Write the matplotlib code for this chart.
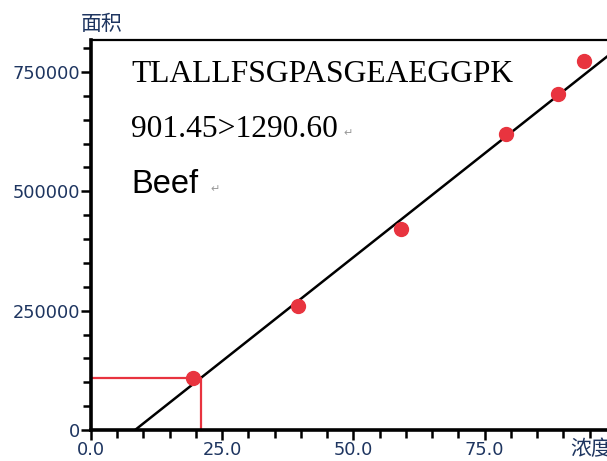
import matplotlib.pyplot as plt
from matplotlib.ticker import MultipleLocator

# 标准曲线数据
conc = [19.5, 39.5, 59.0, 79.0, 89.0, 94.0]
area = [109000, 260000, 421000, 620000, 704000, 773000]
slope = 8700
intercept = -73000
sample_area = 109000

x_ticks = [0, 25, 50, 75]
x_labels = ['0.0', '25.0', '50.0', '75.0']
y_ticks = [0, 250000, 500000, 750000]

fig = plt.figure(figsize=(6.07, 4.61), dpi=100)
ax = fig.add_axes([91 / 607, 31 / 461, 516 / 607, 390 / 461])

x_end = 98.3
x0 = -intercept / slope
ax.plot([x0, x_end], [0, slope * x_end + intercept], color='black', lw=1.8, zorder=2)

# 样品浓度的辅助线
xs = (sample_area - intercept) / slope
ax.plot([0, xs, xs], [sample_area, sample_area, 0], color='#e8333f', lw=1.6, zorder=2,
        clip_on=False)

ax.plot(conc, area, 'o', color='#e8343f', markersize=10, zorder=3, clip_on=False)

ax.set_xlim(0, x_end)
ax.set_ylim(0, 817000)
ax.set_xticks(x_ticks)
ax.set_xticklabels(x_labels)
ax.set_yticks(y_ticks)
ax.set_yticklabels([str(v) for v in y_ticks])
ax.xaxis.set_minor_locator(MultipleLocator(5))
ax.yaxis.set_minor_locator(MultipleLocator(50000))

for side in ['left', 'bottom']:
    ax.spines[side].set_linewidth(2.6)
ax.spines['top'].set_linewidth(1.6)
ax.spines['right'].set_visible(False)

lab = '#1e3560'
ax.tick_params(which='major', length=7, width=1.8, labelsize=12.8, labelcolor=lab, pad=1)
ax.tick_params(which='minor', length=6, width=1.8)

ax.text(0.02, 1.013, '面积', transform=ax.transAxes, ha='center', va='bottom',
        fontsize=15, color=lab, family=['Noto Sans CJK SC'])
ax.text(0.928, -0.022, '浓度', transform=ax.transAxes, ha='left', va='top',
        fontsize=15, color=lab, family=['Noto Sans CJK SC'])

ax.text(0.0775, 0.892, 'TLALLFSGPASGEAEGGPK', transform=ax.transAxes,
        va='baseline', fontsize=22.7, family='Liberation Serif')
ax.text(0.0775, 0.752, '901.45>1290.60', transform=ax.transAxes,
        va='baseline', fontsize=22.7, family='Liberation Serif')
ax.text(0.0775, 0.607, 'Beef', transform=ax.transAxes,
        va='baseline', fontsize=23.5, family='Liberation Sans')
ax.text(0.490, 0.754, '↵', transform=ax.transAxes, va='baseline', fontsize=8, color='#999999')
ax.text(0.232, 0.609, '↵', transform=ax.transAxes, va='baseline', fontsize=8, color='#999999')

fig.savefig('out.png', dpi=100)
